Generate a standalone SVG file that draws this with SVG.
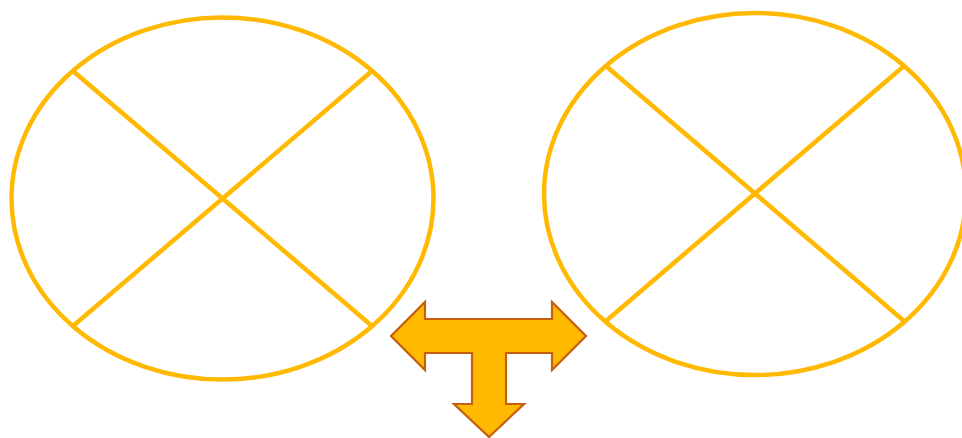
<svg xmlns="http://www.w3.org/2000/svg" width="962" height="438" viewBox="0 0 962 438">
<style>
.ring{fill:none;stroke:#FFB900;stroke-width:4.5}
.arrow{fill:#FFB900;stroke:#C5600E;stroke-width:2.2;stroke-linejoin:miter}
</style>
<rect width="962" height="438" fill="#fff"/>
<g id="left-circle">
<ellipse class="ring" cx="222.5" cy="198.5" rx="211" ry="181"/>
<line class="ring" x1="73" y1="71" x2="372" y2="326"/>
<line class="ring" x1="372" y1="71" x2="73" y2="326"/>
</g>
<g id="right-circle">
<ellipse class="ring" cx="755" cy="194" rx="211" ry="181"/>
<line class="ring" x1="606" y1="66" x2="904" y2="321"/>
<line class="ring" x1="904" y1="66" x2="606" y2="321"/>
</g>
<g id="connectors">
<path class="arrow" d="M391,336 L425,302 L425,319 L552,319 L552,302 L586,336 L552,370 L552,353 L506,353 L506,404 L524,404 L489,437 L454,404 L472,404 L472,353 L425,353 L425,370 Z"/>
</g>
</svg>
